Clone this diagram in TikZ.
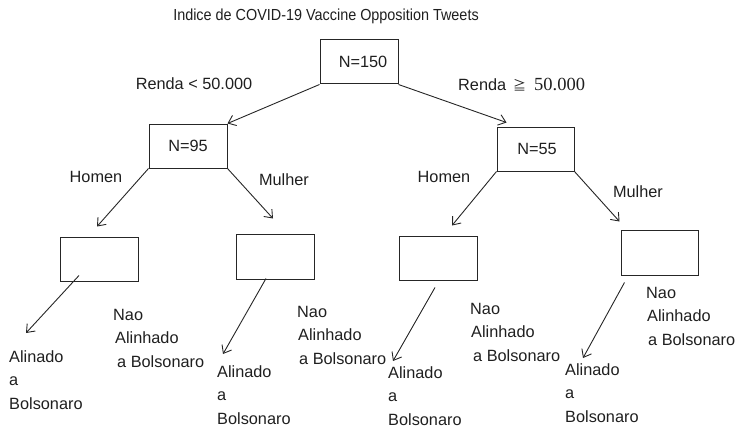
\documentclass[tikz,border=0pt]{standalone}
\usepackage{fontspec}
\setmainfont{Liberation Sans}
\newfontfamily\titlefont[FakeStretch=0.9]{Liberation Sans}
\newfontfamily\numfont{Liberation Serif}
\newfontfamily\cjkfont{Noto Sans CJK JP}
\usetikzlibrary{arrows.meta}
\begin{document}
\begin{tikzpicture}[x=1pt,y=-1pt,
  every node/.style={inner sep=0pt, text=black!88},
  txt/.style={font=\fontsize{16.3}{23.5}\selectfont},
  leaf/.style={txt, align=left, anchor=north west},
  box/.style={draw=black!85, line width=1pt, rectangle, minimum width=78pt, minimum height=44pt, txt},
  arr/.style={draw=black!85, line width=0.9pt, -{Straight Barb[length=7pt,width=11pt,line width=0.9pt]}}
]
\useasboundingbox (0,0) rectangle (737,428);

% title
\node[font=\titlefont\fontsize{16}{18}\selectfont] (title) at (326,16) {Indice de COVID-19 Vaccine Opposition Tweets};

% boxes
\node[box] (root) at (359,62) {\hspace*{8pt}N=150};
\node[box] (n95) at (188,146) {N=95};
\node[box, minimum width=77pt] (n55) at (535.5,149) {\hspace*{3pt}N=55};
\node[box] (ll) at (99,259) {};
\node[box, minimum height=45pt] (lr) at (275,256.5) {};
\node[box] (rl) at (438,258) {};
\node[box, minimum width=77pt, minimum height=45pt] (rr) at (659.5,252.5) {};

% split labels
\node[txt] (lowinc) at (194,84) {Renda < 50.000};
\node[txt, anchor=west] (highinc) at (458,85) {Renda\hspace{7pt}{\cjkfont\fontsize{13}{13}\selectfont ≧}\hspace{8pt}{\numfont\fontsize{18.5}{20}\selectfont 50.000}};
\node[txt] (hl) at (96,177) {Homen};
\node[txt] (ml) at (284,180) {Mulher};
\node[txt] (hr) at (444,177) {Homen};
\node[txt] (mr) at (638,192) {Mulher};

% leaf labels
\node[leaf] (a1) at (9,350) {Alinado\\a\\Bolsonaro};
\node[leaf] (b1) at (113,309) {Nao\\\hspace*{2pt}Alinhado\\\hspace*{4pt}a Bolsonaro};
\node[leaf] (a2) at (217,365) {Alinado\\a\\Bolsonaro};
\node[leaf] (b2) at (297,306) {Nao\\\hspace*{1pt}Alinhado\\\hspace*{2pt}a Bolsonaro};
\node[leaf] (a3) at (388,366) {Alinado\\a\\Bolsonaro};
\node[leaf] (b3) at (470,303) {Nao\\\hspace*{1pt}Alinhado\\\hspace*{3pt}a Bolsonaro};
\node[leaf] (a4) at (565,363) {Alinado\\a\\Bolsonaro};
\node[leaf] (b4) at (646,287) {Nao\\\hspace*{1pt}Alinhado\\\hspace*{2pt}a Bolsonaro};

% free ends of the leaf arrows
\coordinate (e1) at (26,333);
\coordinate (e2) at (223,354);
\coordinate (e3) at (393,361);
\coordinate (e4) at (583,358);

% connectors
\draw[arr] (root.south west) -- (n95.north east);
\draw[arr] (root.south east) -- ([shift={(10,-4)}]n55.north west);
\draw[arr] (n95.south west) -- ([shift={(-2,-10)}]ll.north);
\draw[arr] (n95.south east) -- ([shift={(-2,-15)}]lr.north);
\draw[arr] (n55.south west) -- ([shift={(14,-10)}]rl.north);
\draw[arr] (n55.south east) -- ([shift={(-1,-8)}]rr.north west);
\draw[arr] ([shift={(-20,-6)}]ll.south) -- (e1);
\draw[arr] ([shift={(-9,-1)}]lr.south) -- (e2);
\draw[arr] ([shift={(-3,7)}]rl.south) -- (e3);
\draw[arr] ([shift={(4,7)}]rr.south west) -- (e4);
\end{tikzpicture}
\end{document}
